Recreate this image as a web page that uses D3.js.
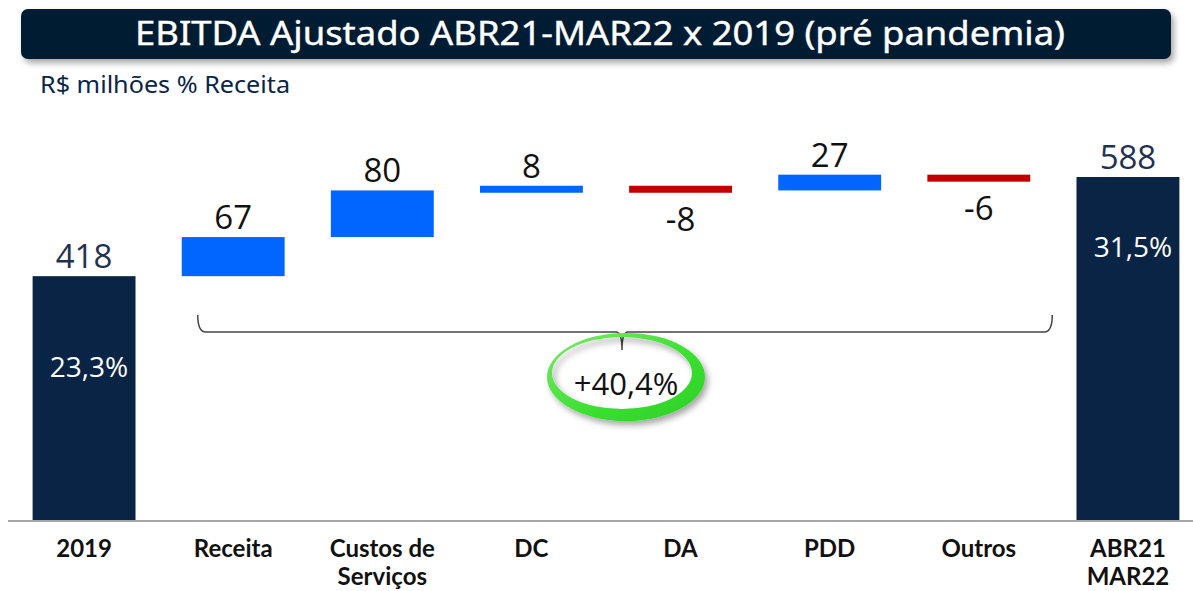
<!DOCTYPE html>
<html>
<head>
<meta charset="utf-8">
<script src="https://cdn.jsdelivr.net/npm/d3@7"></script>
<style>
  body { margin: 0; background: #fff; }
  svg { display: block; }
</style>
</head>
<body>
<svg id="chart"></svg>
<script>
// chart data
const categories = ["2019", "Receita", "Custos de\nServiços", "DC", "DA", "PDD", "Outros", "ABR21\nMAR22"];
const values = [418, 67, 80, 8, -8, 27, -6, 588];
const isTotal = [true, false, false, false, false, false, false, true];
const marginLabels = ["23,3%", "", "", "", "", "", "", "31,5%"];
const growthLabel = "+40,4%";

const width = 1193, height = 591;
const navy = "#0a2445", blue = "#0066ff", red = "#c00000";

const svg = d3.select("#chart")
    .attr("width", width)
    .attr("height", height);

// filters
const defs = svg.append("defs");
const shadow = defs.append("filter").attr("id", "shadow")
    .attr("x", "-10%").attr("y", "-20%").attr("width", "130%").attr("height", "160%");
shadow.append("feDropShadow")
    .attr("dx", 3).attr("dy", 4).attr("stdDeviation", 3)
    .attr("flood-color", "#000").attr("flood-opacity", 0.35);

const ringGrad = defs.append("linearGradient").attr("id", "ringGrad")
    .attr("x1", "0%").attr("y1", "0%").attr("x2", "100%").attr("y2", "100%");
ringGrad.append("stop").attr("offset", "0%").attr("stop-color", "#7fe86a");
ringGrad.append("stop").attr("offset", "60%").attr("stop-color", "#39df2f");
ringGrad.append("stop").attr("offset", "100%").attr("stop-color", "#2fcf28");

// title banner
svg.append("rect")
    .attr("x", 21).attr("y", 9)
    .attr("width", 1150).attr("height", 50)
    .attr("rx", 7)
    .attr("fill", "#021a33")
    .attr("filter", "url(#shadow)");

svg.append("text")
    .attr("x", 600).attr("y", 45)
    .attr("text-anchor", "middle")
    .attr("textLength", 930)
    .attr("lengthAdjust", "spacingAndGlyphs")
    .style("font-family", "'Noto Sans', sans-serif")
    .style("font-size", "32px")
    .style("fill", "#fff")
    .style("stroke", "#fff")
    .style("stroke-width", 0.4)
    .text("EBITDA Ajustado ABR21-MAR22 x 2019 (pré pandemia)");

svg.append("text")
    .attr("x", 40).attr("y", 93)
    .attr("textLength", 250)
    .attr("lengthAdjust", "spacingAndGlyphs")
    .style("font-family", "'Noto Sans', sans-serif")
    .style("font-size", "23px")
    .style("fill", "#0a2445")
    .text("R$ milhões % Receita");

// scales
const x = d3.scaleBand()
    .domain(categories)
    .range([9.5, 1202.5])
    .paddingInner(0.31)
    .paddingOuter(0.155);

const y = d3.scaleLinear()
    .domain([0, 600])
    .range([520, 170]);

// waterfall steps
let running = 0;
const steps = categories.map((c, i) => {
    let start, end;
    if (isTotal[i]) {
        start = 0; end = values[i]; running = values[i];
    } else {
        start = running; end = running + values[i]; running = end;
    }
    return { cat: c, value: values[i], start, end, total: isTotal[i], pct: marginLabels[i] };
});

const barH = d => Math.max(7, Math.abs(y(d.start) - y(d.end)));

const bars = svg.append("g").attr("class", "bars");

bars.selectAll("rect")
    .data(steps)
    .join("rect")
    .attr("x", d => x(d.cat))
    .attr("width", x.bandwidth())
    .attr("y", d => y(Math.max(d.start, d.end)))
    .attr("height", barH)
    .attr("fill", d => d.total ? navy : (d.value >= 0 ? blue : red));

// value labels
svg.append("g").selectAll("text")
    .data(steps)
    .join("text")
    .attr("x", d => x(d.cat) + x.bandwidth() / 2)
    .attr("y", d => d.value >= 0
        ? y(Math.max(d.start, d.end)) - 8
        : y(Math.max(d.start, d.end)) + barH(d) + 38)
    .attr("text-anchor", "middle")
    .style("font-family", "'Open Sans', sans-serif")
    .style("font-size", "33px")
    .style("fill", d => d.total ? "#1f3150" : "#111")
    .text(d => d.value);

// percent labels inside totals
svg.append("g").selectAll("text")
    .data(steps.filter(d => d.pct))
    .join("text")
    .attr("x", d => x(d.cat) + x.bandwidth() / 2 + 5)
    .attr("y", (d, i) => i === 0 ? 377 : 257)
    .attr("text-anchor", "middle")
    .style("font-family", "'Open Sans', sans-serif")
    .style("font-size", "28px")
    .style("fill", "#fff")
    .text(d => d.pct);

// baseline
svg.append("line")
    .attr("x1", 8).attr("x2", width)
    .attr("y1", y(0) + 1).attr("y2", y(0) + 1)
    .attr("stroke", "#a6a6a6")
    .attr("stroke-width", 2);

// category labels
const catG = svg.append("g");
catG.selectAll("text")
    .data(steps)
    .join("text")
    .attr("x", d => x(d.cat) + x.bandwidth() / 2)
    .attr("y", 557)
    .attr("text-anchor", "middle")
    .style("font-family", "Lato, 'Open Sans', sans-serif")
    .style("font-weight", "700")
    .style("font-size", "24px")
    .style("fill", "#111")
    .each(function (d) {
        const lines = d.cat.split("\n");
        d3.select(this).selectAll("tspan")
            .data(lines)
            .join("tspan")
            .attr("x", x(d.cat) + x.bandwidth() / 2)
            .attr("dy", (l, i) => i === 0 ? 0 : 28)
            .text(l => l);
    });

// brace spanning the variation bars
const bx0 = x(categories[1]) + 16;
const bx1 = x(categories[6]) + x.bandwidth() + 22;
const bmid = (bx0 + bx1) / 2 - 3;
const by = 332;
const brace = d3.path();
brace.moveTo(bx0, by - 17);
brace.quadraticCurveTo(bx0, by, bx0 + 8, by);
brace.lineTo(bmid - 6, by);
brace.quadraticCurveTo(bmid, by, bmid, by + 18);
brace.quadraticCurveTo(bmid, by, bmid + 6, by);
brace.lineTo(bx1 - 8, by);
brace.quadraticCurveTo(bx1, by, bx1, by - 17);
svg.append("path")
    .attr("d", brace.toString())
    .attr("fill", "none")
    .attr("stroke", "#444")
    .attr("stroke-width", 1.5);

// green ring around growth label
const cx = 626, cy = 377;
const outer = `M ${cx - 79},${cy} a 79,44 0 1,0 158,0 a 79,44 0 1,0 -158,0 Z`;
const inner = `M ${cx - 4 - 70},${cy - 4} a 70,36 0 1,0 140,0 a 70,36 0 1,0 -140,0 Z`;
svg.append("path")
    .attr("d", outer + " " + inner)
    .attr("fill-rule", "evenodd")
    .attr("fill", "url(#ringGrad)")
    .attr("filter", "url(#shadow)");

svg.append("text")
    .attr("x", cx).attr("y", cy + 18)
    .attr("text-anchor", "middle")
    .style("font-family", "'Open Sans', sans-serif")
    .style("font-size", "31px")
    .style("fill", "#111")
    .text(growthLabel);
</script>
</body>
</html>
